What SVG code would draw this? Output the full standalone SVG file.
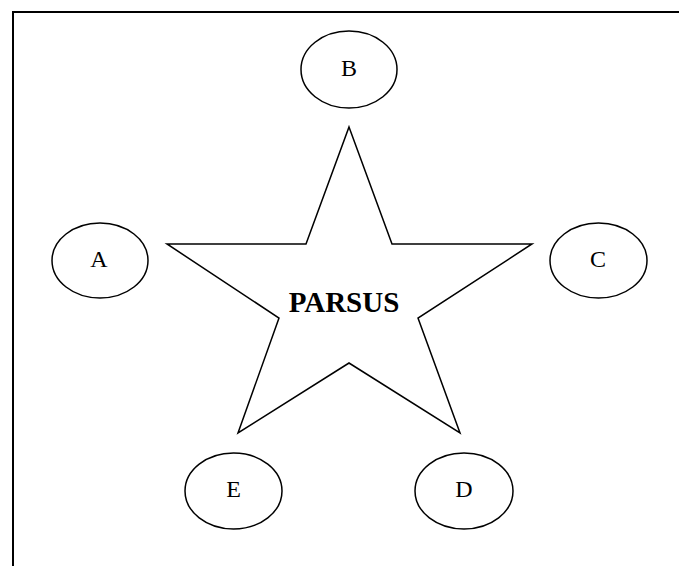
<svg xmlns="http://www.w3.org/2000/svg" width="679" height="566" viewBox="0 0 679 566">
  <style>
    .frame { fill: none; stroke: #000; stroke-width: 2; }
    .node ellipse { fill: #fff; stroke: #000; stroke-width: 1.5; }
    .label { font-family: "Liberation Serif", "Times New Roman", serif; font-size: 24px; fill: #000; text-anchor: middle; }
    .star { fill: #fff; stroke: #000; stroke-width: 1.5; stroke-linejoin: miter; }
    .title { font-family: "Liberation Serif", "Times New Roman", serif; font-size: 29px; font-weight: bold; fill: #000; text-anchor: middle; }
  </style>
  <rect width="679" height="566" fill="#fff"/>
  <!-- page frame: top and left edges -->
  <path class="frame" d="M13 566 V12 H679"/>

  <g id="connectors"></g>

  <!-- central star -->
  <g id="parsus">
    <polygon class="star" points="349,127 392,244 532,244 418,318 460,433 349,363 238,433 279,318 167,244 306,244"/>
    <text class="title" x="344" y="312">PARSUS</text>
  </g>

  <g id="node-b" class="node">
    <ellipse cx="349" cy="69.5" rx="48" ry="38.5"/>
    <text class="label" x="349" y="76">B</text>
  </g>
  <g id="node-a" class="node">
    <ellipse cx="100" cy="260.5" rx="48" ry="37.5"/>
    <text class="label" x="99" y="267">A</text>
  </g>
  <g id="node-c" class="node">
    <ellipse cx="598.5" cy="260.5" rx="48.5" ry="37.5"/>
    <text class="label" x="598" y="267">C</text>
  </g>
  <g id="node-e" class="node">
    <ellipse cx="233.5" cy="491" rx="48.5" ry="38"/>
    <text class="label" x="233.5" y="497">E</text>
  </g>
  <g id="node-d" class="node">
    <ellipse cx="464" cy="491" rx="49" ry="38"/>
    <text class="label" x="464" y="497">D</text>
  </g>
</svg>
